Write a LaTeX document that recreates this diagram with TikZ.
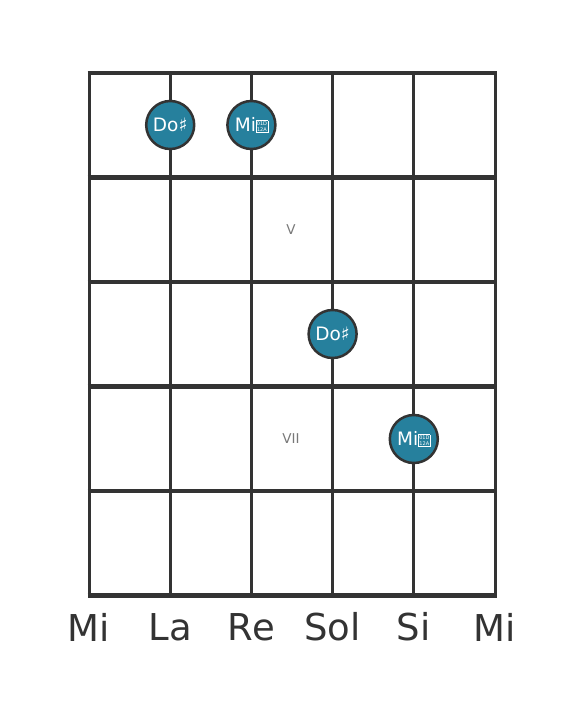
\documentclass[tikz,border=0pt]{standalone}
\usepackage{fontspec}
\setmainfont{DejaVu Sans}
\usetikzlibrary{positioning}
\definecolor{fretgray}{RGB}{51,51,51}
\definecolor{noteteal}{RGB}{38,128,157}
\definecolor{labelgray}{RGB}{120,120,120}
% the double sharp has no glyph in any font: a box with its code point
\newcommand{\dblsharpbox}{{\fboxsep=0.5pt\fboxrule=0.45pt%
    \raisebox{-0.6pt}{\fbox{\fontsize{5}{5.3}\selectfont\shortstack{01D\\12A}}}}}

\begin{document}
\begin{tikzpicture}[x=1pt,y=-1pt,
    note/.style={circle, draw=fretgray, line width=2.5pt, fill=noteteal,
        minimum size=48pt, inner sep=0pt, text=white, font=\fontsize{18.5}{18.5}\selectfont},
    fretnum/.style={text=labelgray, font=\fontsize{13.5}{13.5}\selectfont},
    stringname/.style={text=fretgray, font=\fontsize{37}{37}\selectfont}]
    \useasboundingbox (0,0) rectangle (584,711);
    % strings
    \foreach \s in {0,...,5}
        \draw[fretgray, line width=3pt] (89+\s*81.2,73) -- (89+\s*81.2,595.5);
    % frets
    \foreach \f in {0,...,5}
        \draw[fretgray, line width=4.5pt] (87.5,73+\f*104.5) -- (496.5,73+\f*104.5);
    % fret numbers
    \node[fretnum] (fretV) at (291,230) {V};
    \node[fretnum] (fretVII) at (291,439) {VII};
    % notes
    \node[note] (doA) at (170.2,125) {Do♯};
    \node[note] (miA) at (251.4,125) {Mi\dblsharpbox};
    \node[note] (doB) at (332.6,334) {Do♯};
    \node[note] (miB) at (413.8,439) {Mi\dblsharpbox};
    % string names
    \node[stringname] (mi low) at (89,627) {Mi};
    \node[stringname] (la) at (170.2,627) {La};
    \node[stringname] (re) at (251.4,627) {Re};
    \node[stringname] (sol) at (332.6,627) {Sol};
    \node[stringname] (si) at (413.8,627) {Si};
    \node[stringname] (mi high) at (495,627) {Mi};
\end{tikzpicture}
\end{document}
